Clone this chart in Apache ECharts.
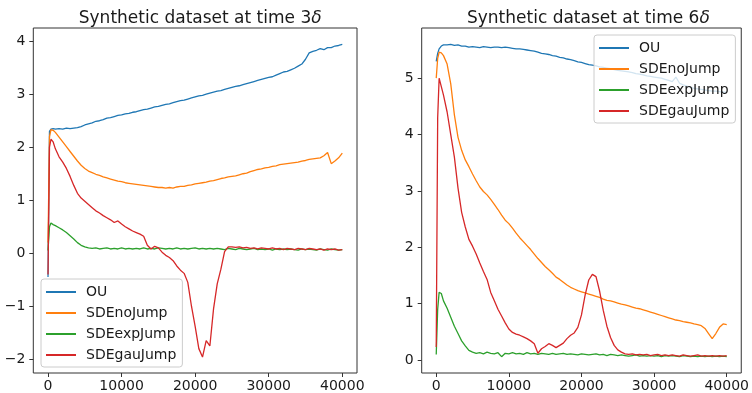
<!DOCTYPE html>
<html><head><meta charset="utf-8">
<script src="https://cdn.jsdelivr.net/npm/echarts@6/dist/echarts.min.js"></script>
<style>html,body{margin:0;padding:0;background:#fff}#c{width:752px;height:393px}</style>
</head><body><div id="c"></div>
<script>
const X = [0,200,400,700,1000,
1500,2000,2500,3000,3500,4000,4500,5000,5500,6000,
6500,7000,7500,8000,8500,9000,9500,10000,10500,11000,
11500,12000,12500,13000,13500,14000,14500,15000,15500,16000,
16500,17000,17500,18000,18500,19000,19500,20000,20500,21000,
21500,22000,22500,23000,23500,24000,24500,25000,25500,26000,
26500,27000,27500,28000,28500,29000,29500,30000,30500,31000,
31500,32000,32500,33000,33500,34000,34500,35000,35500,36000,
36500,37000,37500,38000,38500,39000,39500,40000];
const names = ['OU','SDEnoJump','SDEexpJump','SDEgauJump'];
const colors = ['#1f77b4','#ff7f0e','#2ca02c','#d62728'];
const titles = ['Synthetic dataset at time 3', 'Synthetic dataset at time 6'];
const xTicks = [0,10000,20000,30000,40000];
const yTicksL = [-2,-1,0,1,2,3,4];
const yTicksR = [0,1,2,3,4,5];

// Left panel (time 3δ)
const L_OU = [-0.45,2.30,2.34,2.35,2.34,
2.35,2.34,2.36,2.35,2.36,2.37,2.39,2.42,2.44,2.46,
2.49,2.50,2.52,2.55,2.56,2.58,2.60,2.61,2.63,2.64,
2.66,2.67,2.69,2.71,2.72,2.74,2.76,2.77,2.79,2.81,
2.82,2.84,2.86,2.88,2.89,2.91,2.93,2.95,2.97,2.98,
3.00,3.02,3.04,3.06,3.07,3.09,3.11,3.13,3.15,3.16,
3.18,3.20,3.22,3.24,3.26,3.28,3.30,3.32,3.33,3.36,
3.39,3.42,3.43,3.46,3.49,3.53,3.57,3.66,3.78,3.81,
3.83,3.86,3.84,3.88,3.88,3.91,3.92,3.94];
const L_NO = [0.20,2.20,2.33,2.32,2.28,
2.19,2.10,2.01,1.92,1.83,1.74,1.66,1.60,1.55,1.52,
1.49,1.47,1.44,1.42,1.40,1.38,1.36,1.35,1.33,1.32,
1.31,1.30,1.29,1.28,1.27,1.26,1.25,1.24,1.24,1.23,
1.24,1.23,1.25,1.26,1.26,1.28,1.29,1.31,1.32,1.33,
1.34,1.36,1.37,1.39,1.41,1.42,1.44,1.45,1.46,1.48,
1.50,1.51,1.54,1.56,1.58,1.59,1.61,1.62,1.64,1.65,
1.67,1.68,1.69,1.70,1.71,1.72,1.74,1.75,1.77,1.78,
1.79,1.80,1.84,1.90,1.69,1.74,1.80,1.89];
const L_EX = [0.05,0.50,0.57,0.54,0.52,
0.48,0.44,0.39,0.33,0.27,0.20,0.15,0.12,0.10,0.09,
0.10,0.08,0.09,0.10,0.08,0.09,0.08,0.10,0.08,0.09,
0.08,0.09,0.08,0.10,0.08,0.09,0.08,0.10,0.09,0.08,
0.09,0.08,0.10,0.08,0.09,0.08,0.09,0.10,0.08,0.09,
0.08,0.09,0.08,0.09,0.08,0.07,0.09,0.08,0.07,0.09,
0.08,0.07,0.08,0.09,0.07,0.08,0.07,0.08,0.06,0.08,
0.07,0.08,0.07,0.08,0.07,0.06,0.08,0.07,0.08,0.07,
0.06,0.08,0.07,0.06,0.08,0.07,0.06,0.07];
const L_GA = [-0.40,2.00,2.15,2.10,1.97,
1.82,1.72,1.60,1.45,1.28,1.13,1.04,0.98,0.92,0.86,
0.80,0.76,0.71,0.67,0.63,0.58,0.61,0.55,0.50,0.46,
0.42,0.39,0.36,0.32,0.15,0.08,0.13,0.10,0.02,-0.04,
-0.08,-0.14,-0.24,-0.32,-0.38,-0.55,-1.00,-1.38,-1.80,-1.96,
-1.65,-1.75,-1.05,-0.58,-0.30,0.03,0.12,0.12,0.11,0.12,
0.10,0.11,0.09,0.10,0.08,0.10,0.09,0.08,0.10,0.08,
0.09,0.07,0.09,0.08,0.07,0.09,0.08,0.07,0.09,0.08,
0.07,0.08,0.06,0.08,0.07,0.08,0.06,0.07];

// Right panel (time 6δ)
const R_OU = [5.30,5.44,5.52,5.57,5.59,
5.59,5.60,5.58,5.59,5.57,5.57,5.55,5.56,5.55,5.54,
5.56,5.55,5.54,5.55,5.55,5.54,5.55,5.54,5.53,5.52,
5.52,5.51,5.50,5.49,5.48,5.46,5.44,5.43,5.42,5.40,
5.39,5.37,5.36,5.34,5.33,5.31,5.29,5.28,5.26,5.24,
5.23,5.22,5.20,5.19,5.18,5.17,5.15,5.14,5.13,5.12,
5.11,5.10,5.08,5.07,5.06,5.04,5.03,5.02,5.01,5.00,
4.98,4.96,4.94,5.02,4.91,4.88,4.86,4.84,4.82,4.81,
4.80,4.79,4.78,4.77,4.77,4.76,4.75,4.75];
const R_NO = [5.00,5.35,5.46,5.45,5.40,
5.25,4.90,4.35,3.95,3.72,3.55,3.43,3.30,3.18,3.07,
2.99,2.93,2.85,2.76,2.67,2.57,2.48,2.42,2.34,2.25,
2.17,2.10,2.03,1.96,1.88,1.80,1.73,1.66,1.60,1.54,
1.47,1.43,1.38,1.33,1.29,1.26,1.23,1.21,1.19,1.17,
1.15,1.13,1.11,1.08,1.06,1.05,1.03,1.01,0.99,0.98,
0.96,0.94,0.92,0.91,0.89,0.87,0.85,0.83,0.81,0.79,
0.77,0.75,0.73,0.71,0.70,0.68,0.67,0.66,0.64,0.63,
0.61,0.56,0.47,0.38,0.47,0.58,0.64,0.63];
const R_EX = [0.10,0.90,1.20,1.18,1.05,
0.92,0.76,0.60,0.47,0.34,0.25,0.17,0.14,0.12,0.13,
0.11,0.14,0.12,0.11,0.13,0.06,0.12,0.11,0.13,0.11,
0.12,0.10,0.13,0.11,0.12,0.10,0.12,0.11,0.10,0.12,
0.10,0.11,0.12,0.10,0.11,0.10,0.09,0.11,0.10,0.09,
0.10,0.11,0.09,0.10,0.08,0.10,0.09,0.08,0.09,0.08,
0.07,0.08,0.09,0.07,0.08,0.07,0.08,0.07,0.08,0.06,
0.08,0.07,0.08,0.07,0.06,0.08,0.07,0.06,0.07,0.06,
0.07,0.06,0.07,0.06,0.07,0.06,0.07,0.06];
const R_GA = [0.23,4.30,5.00,4.85,4.70,
4.40,4.00,3.60,3.05,2.62,2.36,2.14,2.02,1.88,1.72,
1.57,1.43,1.20,1.05,0.90,0.78,0.66,0.55,0.49,0.46,
0.44,0.41,0.38,0.34,0.29,0.12,0.20,0.24,0.29,0.26,
0.22,0.26,0.30,0.38,0.44,0.48,0.58,0.80,1.15,1.42,
1.52,1.48,1.22,0.88,0.60,0.40,0.26,0.18,0.14,0.11,
0.10,0.11,0.09,0.10,0.09,0.10,0.08,0.09,0.10,0.08,
0.09,0.08,0.09,0.08,0.07,0.09,0.08,0.07,0.08,0.09,
0.07,0.08,0.07,0.08,0.07,0.08,0.07,0.08];

const panels = [[L_OU,L_NO,L_EX,L_GA],[R_OU,R_NO,R_EX,R_GA]];
const FONT = 'DejaVu Sans';
const TXT = '#1a1a1a';
const AX = '#333';

const fmtNum = v => (v < 0 ? '\u2212' + Math.abs(v) : String(v));

const grids = [
  {left: 33.3, top: 28, width: 323.7, height: 346.3},
  {left: 421.7, top: 28, width: 323.3, height: 346.3}
];

function xAxis(i){
  return {type:'value', gridIndex:i, min:-2000, max:42000, position:'bottom',
    axisLine:{show:false, onZero:false}, splitLine:{show:false},
    axisTick:{show:true, inside:false, customValues:xTicks, length:4, lineStyle:{color:AX, width:1}},
    axisLabel:{customValues:xTicks, margin:6, fontFamily:FONT, fontSize:14, color:TXT, formatter:fmtNum}};
}
function yAxis(i, mn, mx, ticks){
  return {type:'value', gridIndex:i, min:mn, max:mx, position:'left',
    axisLine:{show:false, onZero:false}, splitLine:{show:false},
    axisTick:{show:true, inside:false, customValues:ticks, length:4, lineStyle:{color:AX, width:1}},
    axisLabel:{customValues:ticks, margin:8, fontFamily:FONT, fontSize:14, color:TXT, formatter:fmtNum}};
}

const series = [];
panels.forEach((arrs, p) => {
  arrs.forEach((ys, j) => {
    series.push({type:'line', name:names[j], xAxisIndex:p, yAxisIndex:p,
      data: X.map((x,k) => [x, ys[k]]), symbol:'none', showSymbol:false,
      lineStyle:{width:1.3, color:colors[j]}, itemStyle:{color:colors[j]},
      z: 2 + j, animation:false});
  });
});

function legend(left, top){
  return {data:names, orient:'vertical', left:left, top:top,
    icon:'rect', itemWidth:30, itemHeight:2, itemGap:7,
    padding:[6,6,5,5], backgroundColor:'rgba(255,255,255,0.8)',
    borderColor:'#cccccc', borderWidth:1, borderRadius:3,
    textStyle:{fontFamily:FONT, fontSize:14, color:TXT, lineHeight:14, padding:[0,0,0,5]},
    selectedMode:false};
}

function title(t, cx){
  return {text:'{a|' + t + '}{b|\u03b4}', left:cx, top:5, textAlign:'center',
    textStyle:{fontWeight:'normal', rich:{
      a:{fontFamily:FONT, fontSize:17, color:TXT, fontWeight:'normal'},
      b:{fontFamily:FONT, fontSize:17, color:TXT, fontStyle:'italic', fontWeight:'normal'}}}};
}

const chart = echarts.init(document.getElementById('c'), null, {renderer:'canvas'});
chart.setOption({
  animation:false,
  backgroundColor:'#fff',
  title:[title(titles[0], 195.2), title(titles[1], 583.4)],
  grid: grids.map(g => Object.assign({show:true, borderColor:AX, borderWidth:1, backgroundColor:'transparent'}, g)),
  xAxis:[xAxis(0), xAxis(1)],
  yAxis:[yAxis(0,-2.26,4.25,yTicksL), yAxis(1,-0.23,5.89,yTicksR)],
  legend:[legend(41,279), legend(594,35)],
  series: series
});
</script></body></html>
